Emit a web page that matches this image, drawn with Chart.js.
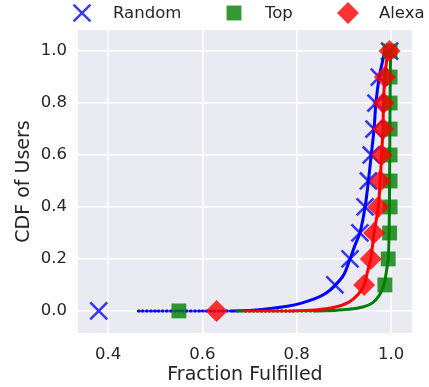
<!DOCTYPE html>
<html>
<head>
<meta charset="utf-8">
<script src="https://cdn.jsdelivr.net/npm/chart.js@4/dist/chart.umd.min.js"></script>
<style>
    html, body { margin: 0; padding: 0; background: #ffffff; overflow: hidden; }
    #wrap { position: relative; width: 429px; height: 387px; }
</style>
</head>
<body>
<div id="wrap"><canvas id="cdf_chart" width="429" height="387"></canvas></div>
<script>
// CDF levels where markers are placed
const markerLevels = [0.0, 0.1, 0.2, 0.3, 0.4, 0.5, 0.6, 0.7, 0.8, 0.9, 1.0];

// marker x positions (fraction fulfilled at each CDF level)
const randomMarkers = [0.38, 0.881, 0.913, 0.934, 0.945, 0.952, 0.958, 0.964, 0.968, 0.975, 0.997];
const topMarkers = [0.55, 0.987, 0.994, 0.997, 0.998, 0.998, 0.998, 0.998, 0.998, 0.998, 0.998];
const alexaMarkers = [0.63, 0.943, 0.957, 0.964, 0.973, 0.977, 0.98, 0.983, 0.984, 0.987, 0.997];

// curves (x = fraction fulfilled, y = CDF)
const randomCurveX = [0.464, 0.5, 0.55, 0.6, 0.664, 0.7, 0.74, 0.78, 0.81, 0.84, 0.86, 0.88, 0.9, 0.913, 0.925, 0.934, 0.945, 0.952, 0.958, 0.964, 0.968, 0.975, 0.982, 0.987];
const randomCurveY = [0.0, 0.0, 0.0, 0.0, 0.0, 0.002, 0.008, 0.018, 0.03, 0.048, 0.066, 0.095, 0.14, 0.2, 0.26, 0.3, 0.4, 0.5, 0.6, 0.7, 0.8, 0.9, 0.96, 1.0];
const topCurveX = [0.674, 0.72, 0.78, 0.84, 0.88, 0.91, 0.94, 0.96, 0.975, 0.985, 0.99, 0.994, 0.996, 0.997, 0.998, 0.999];
const topCurveY = [0.0, 0.0, 0.0, 0.0, 0.002, 0.006, 0.015, 0.03, 0.06, 0.1, 0.15, 0.2, 0.3, 0.5, 0.8, 1.0];
const alexaCurveX = [0.69, 0.74, 0.79, 0.84, 0.88, 0.91, 0.93, 0.943, 0.95, 0.957, 0.964, 0.973, 0.977, 0.98, 0.983, 0.984, 0.987, 0.993];
const alexaCurveY = [0.0, 0.0, 0.0, 0.004, 0.014, 0.033, 0.063, 0.1, 0.15, 0.2, 0.3, 0.4, 0.5, 0.6, 0.7, 0.8, 0.9, 1.0];

const xTicks = [0.4, 0.6, 0.8, 1.0];
const yTicks = [0.0, 0.2, 0.4, 0.6, 0.8, 1.0];

const seriesNames = ["Random", "Top", "Alexa"];

function toPoints(xs, ys) {
    return xs.map((x, i) => ({ x: x, y: ys[i] }));
}

// flat part at y=0 is drawn dotted
const flatDots = (ctx) =>
    ctx.p0.parsed.y === 0 && ctx.p1.parsed.y === 0 ? [1, 3] : undefined;

const markerDefs = [
    { label: seriesNames[0], xs: randomMarkers, style: "crossRot", color: "rgba(0,0,255,0.78)", radius: 12, border: 2.5, order: 2 },
    { label: seriesNames[1], xs: topMarkers, style: "rect", color: "rgba(0,128,0,0.8)", radius: 10.5, border: 0, order: 1 },
    { label: seriesNames[2], xs: alexaMarkers, style: "rectRot", color: "rgba(255,0,0,0.8)", radius: 11, border: 0, order: 0 },
];

const curveDefs = [
    { xs: randomCurveX, ys: randomCurveY, color: "#0000ff", order: 5 },
    { xs: topCurveX, ys: topCurveY, color: "#008000", order: 4 },
    { xs: alexaCurveX, ys: alexaCurveY, color: "#ff0000", order: 3 },
];

const datasets = [];
curveDefs.forEach((c) => {
    datasets.push({
        type: "line",
        data: toPoints(c.xs, c.ys),
        borderColor: c.color,
        borderWidth: 3,
        borderCapStyle: "round",
        pointRadius: 0,
        tension: 0.3,
        order: c.order,
        segment: { borderDash: flatDots },
    });
});
markerDefs.forEach((m) => {
    datasets.push({
        type: "scatter",
        label: m.label,
        data: toPoints(m.xs, markerLevels),
        pointStyle: m.style,
        pointRadius: m.radius,
        pointBackgroundColor: m.color,
        pointBorderColor: m.color,
        pointBorderWidth: m.border,
        showLine: false,
        order: m.order,
    });
});

const textColor = "#262626";
const fontFamily = "'DejaVu Sans', sans-serif";

// legend drawn above plot, same shapes as markers
const topLegendPlugin = {
    id: "topLegend",
    afterDraw(chart) {
        const ctx = chart.ctx;
        const items = [
            { cx: 82, tx: 113 },
            { cx: 234, tx: 265 },
            { cx: 348, tx: 379 },
        ];
        const y = 13;
        ctx.save();
        items.forEach((it, i) => {
            const m = markerDefs[i];
            ctx.fillStyle = m.color;
            ctx.strokeStyle = m.color;
            if (m.style === "crossRot") {
                const d = m.radius * Math.SQRT1_2;
                ctx.lineWidth = m.border;
                ctx.beginPath();
                ctx.moveTo(it.cx - d, y - d);
                ctx.lineTo(it.cx + d, y + d);
                ctx.moveTo(it.cx - d, y + d);
                ctx.lineTo(it.cx + d, y - d);
                ctx.stroke();
            } else if (m.style === "rect") {
                const s = m.radius * Math.SQRT1_2;
                ctx.fillRect(it.cx - s, y - s, 2 * s, 2 * s);
            } else {
                const r = m.radius;
                ctx.beginPath();
                ctx.moveTo(it.cx, y - r);
                ctx.lineTo(it.cx + r, y);
                ctx.lineTo(it.cx, y + r);
                ctx.lineTo(it.cx - r, y);
                ctx.closePath();
                ctx.fill();
            }
            ctx.fillStyle = textColor;
            ctx.font = "16.5px " + fontFamily;
            ctx.textBaseline = "middle";
            ctx.textAlign = "left";
            ctx.fillText(m.label, it.tx, y + 1);
        });
        ctx.restore();
    },
};

const plotBackground = {
    id: "plotBackground",
    beforeDraw(chart) {
        const a = chart.chartArea;
        const ctx = chart.ctx;
        ctx.save();
        ctx.fillStyle = "#eaeaf2";
        ctx.fillRect(a.left, a.top, a.right - a.left, a.bottom - a.top);
        ctx.restore();
    },
};

var chartEl = document.getElementById("cdf_chart");
var cdfChart = new Chart(chartEl.getContext("2d"), {
    data: { datasets: datasets },
    options: {
        responsive: false,
        animation: false,
        events: [],
        layout: { padding: { top: 30, right: 17, left: 0, bottom: 0 } },
        plugins: {
            legend: { display: false },
            tooltip: { enabled: false },
        },
        scales: {
            x: {
                type: "linear",
                min: 0.336,
                max: 1.0445,
                afterBuildTicks: (scale) => {
                    scale.ticks = xTicks.map((v) => ({ value: v }));
                },
                afterFit: (scale) => {
                    scale.height = 54;
                },
                grid: { color: "#ffffff", lineWidth: 1.5, drawTicks: false },
                border: { display: false },
                ticks: {
                    padding: 12,
                    color: textColor,
                    font: { family: fontFamily, size: 16.5 },
                    callback: (v) => v.toFixed(1),
                },
                title: {
                    display: true,
                    text: "Fraction Fulfilled",
                    color: textColor,
                    font: { family: fontFamily, size: 19 },
                    padding: { top: 0, bottom: 1 },
                },
            },
            y: {
                type: "linear",
                min: -0.085,
                max: 1.081,
                afterBuildTicks: (scale) => {
                    scale.ticks = yTicks.map((v) => ({ value: v }));
                },
                afterFit: (scale) => {
                    scale.width = 78;
                },
                grid: { color: "#ffffff", lineWidth: 1.5, drawTicks: false },
                border: { display: false },
                ticks: {
                    padding: 11,
                    color: textColor,
                    font: { family: fontFamily, size: 16.5 },
                    callback: (v) => v.toFixed(1),
                },
                title: {
                    display: true,
                    text: "CDF of Users",
                    color: textColor,
                    font: { family: fontFamily, size: 19 },
                    padding: { top: 13, bottom: 0 },
                },
            },
        },
    },
    plugins: [plotBackground, topLegendPlugin],
});
</script>
</body>
</html>
